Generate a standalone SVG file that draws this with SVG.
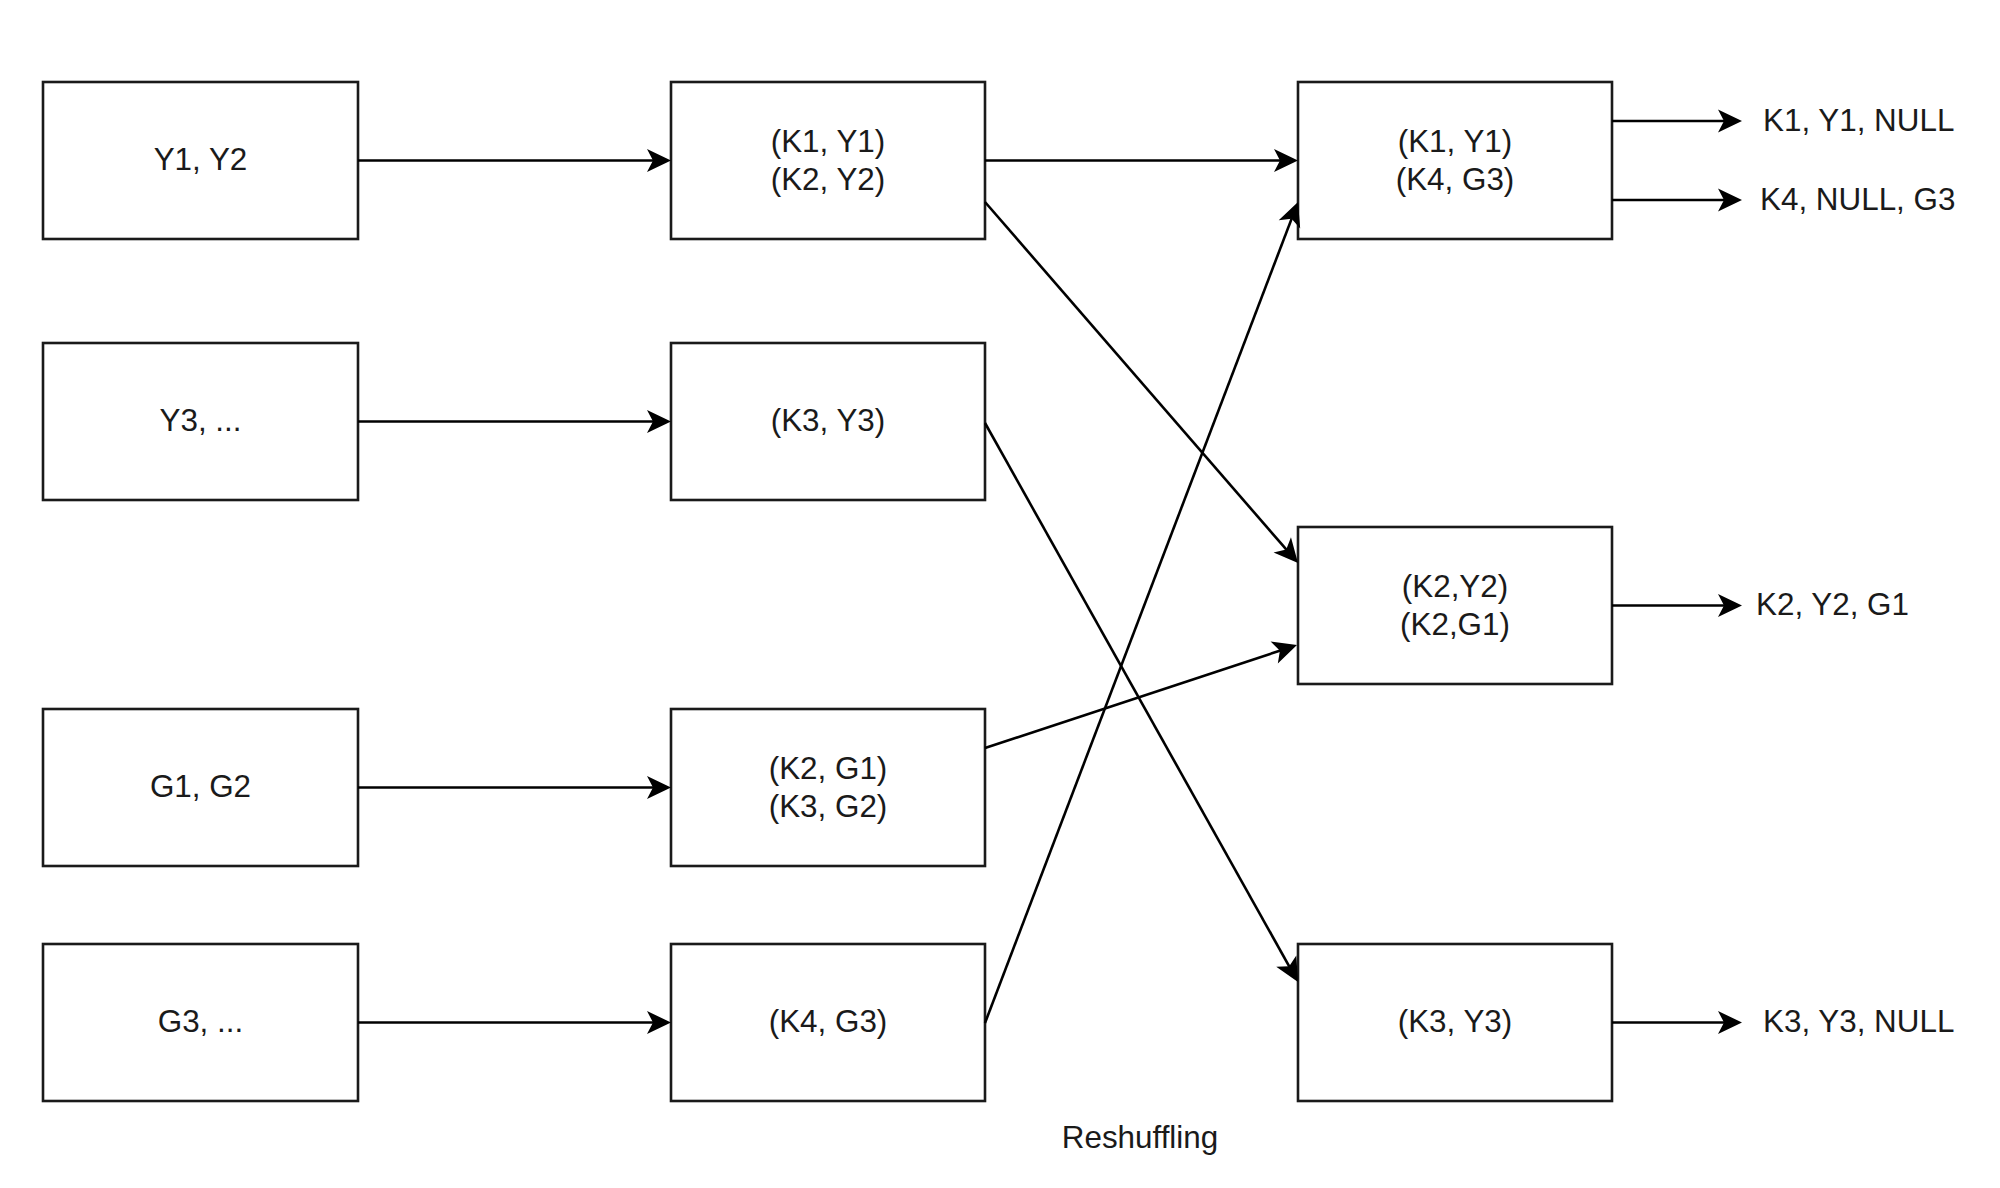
<svg xmlns="http://www.w3.org/2000/svg" width="2000" height="1188" viewBox="0 0 2000 1188">
  <style>
    .box { fill: #ffffff; stroke: #1a1a1a; stroke-width: 2.6; }
    .lbl { font-family: "Liberation Sans", Arial, sans-serif; font-size: 31.4px; fill: #1a1a1a; text-anchor: middle; }
    .out { font-family: "Liberation Sans", Arial, sans-serif; font-size: 31.4px; fill: #1a1a1a; text-anchor: start; }
    .edge { fill: none; stroke: #000000; stroke-width: 2.6; marker-end: url(#arrow); }
  </style>
  <defs>
    <marker id="arrow" markerUnits="userSpaceOnUse" markerWidth="30" markerHeight="30" viewBox="-24 -12 30 24" refX="-6" refY="0" orient="auto" overflow="visible">
      <path d="M0,0 L-24,-11.5 L-18,0 L-24,11.5 Z" fill="#000000"/>
    </marker>
  </defs>
  <rect width="2000" height="1188" fill="#ffffff"/>

  <!-- input splits -->
  <g id="in-y12"><rect class="box" x="43" y="82" width="315" height="157"/><text class="lbl" x="200.5" y="170">Y1, Y2</text></g>
  <g id="in-y3"><rect class="box" x="43" y="343" width="315" height="157"/><text class="lbl" x="200.5" y="431">Y3, ...</text></g>
  <g id="in-g12"><rect class="box" x="43" y="709" width="315" height="157"/><text class="lbl" x="200.5" y="797">G1, G2</text></g>
  <g id="in-g3"><rect class="box" x="43" y="944" width="315" height="157"/><text class="lbl" x="200.5" y="1032">G3, ...</text></g>

  <!-- map output -->
  <g id="map-y12"><rect class="box" x="671" y="82" width="314" height="157"/><text class="lbl" x="828" y="151.5">(K1, Y1)</text><text class="lbl" x="828" y="189.5">(K2, Y2)</text></g>
  <g id="map-y3"><rect class="box" x="671" y="343" width="314" height="157"/><text class="lbl" x="828" y="431">(K3, Y3)</text></g>
  <g id="map-g12"><rect class="box" x="671" y="709" width="314" height="157"/><text class="lbl" x="828" y="778.5">(K2, G1)</text><text class="lbl" x="828" y="816.5">(K3, G2)</text></g>
  <g id="map-g3"><rect class="box" x="671" y="944" width="314" height="157"/><text class="lbl" x="828" y="1032">(K4, G3)</text></g>

  <!-- reduce input -->
  <g id="red-k14"><rect class="box" x="1298" y="82" width="314" height="157"/><text class="lbl" x="1455" y="151.5">(K1, Y1)</text><text class="lbl" x="1455" y="189.5">(K4, G3)</text></g>
  <g id="red-k2"><rect class="box" x="1298" y="527" width="314" height="157"/><text class="lbl" x="1455" y="596.5">(K2,Y2)</text><text class="lbl" x="1455" y="634.5">(K2,G1)</text></g>
  <g id="red-k3"><rect class="box" x="1298" y="944" width="314" height="157"/><text class="lbl" x="1455" y="1032">(K3, Y3)</text></g>

  <!-- joined results -->
  <g id="res-1"><text class="out" x="1763" y="131">K1, Y1, NULL</text></g>
  <g id="res-2"><text class="out" x="1760" y="210">K4, NULL, G3</text></g>
  <g id="res-3"><text class="out" x="1756" y="615">K2, Y2, G1</text></g>
  <g id="res-4"><text class="out" x="1763" y="1032">K3, Y3, NULL</text></g>

  <g id="caption"><text class="lbl" x="1140" y="1148">Reshuffling</text></g>

  <g id="connectors">
    <line class="edge" x1="358" y1="160.5" x2="665" y2="160.5"/>
    <line class="edge" x1="358" y1="421.5" x2="665" y2="421.5"/>
    <line class="edge" x1="358" y1="787.5" x2="665" y2="787.5"/>
    <line class="edge" x1="358" y1="1022.5" x2="665" y2="1022.5"/>

    <line class="edge" x1="985" y1="160.5" x2="1292" y2="160.5"/>
    <line class="edge" x1="985" y1="202" x2="1294.07" y2="558.47"/>
    <line class="edge" x1="985" y1="423" x2="1295.07" y2="976.77"/>
    <line class="edge" x1="985" y1="748" x2="1291.3" y2="646.9"/>
    <line class="edge" x1="985" y1="1023" x2="1295.86" y2="207.6"/>

    <line class="edge" x1="1612" y1="121" x2="1736" y2="121"/>
    <line class="edge" x1="1612" y1="200" x2="1736" y2="200"/>
    <line class="edge" x1="1612" y1="605.5" x2="1736" y2="605.5"/>
    <line class="edge" x1="1612" y1="1022.5" x2="1736" y2="1022.5"/>
  </g>
</svg>
